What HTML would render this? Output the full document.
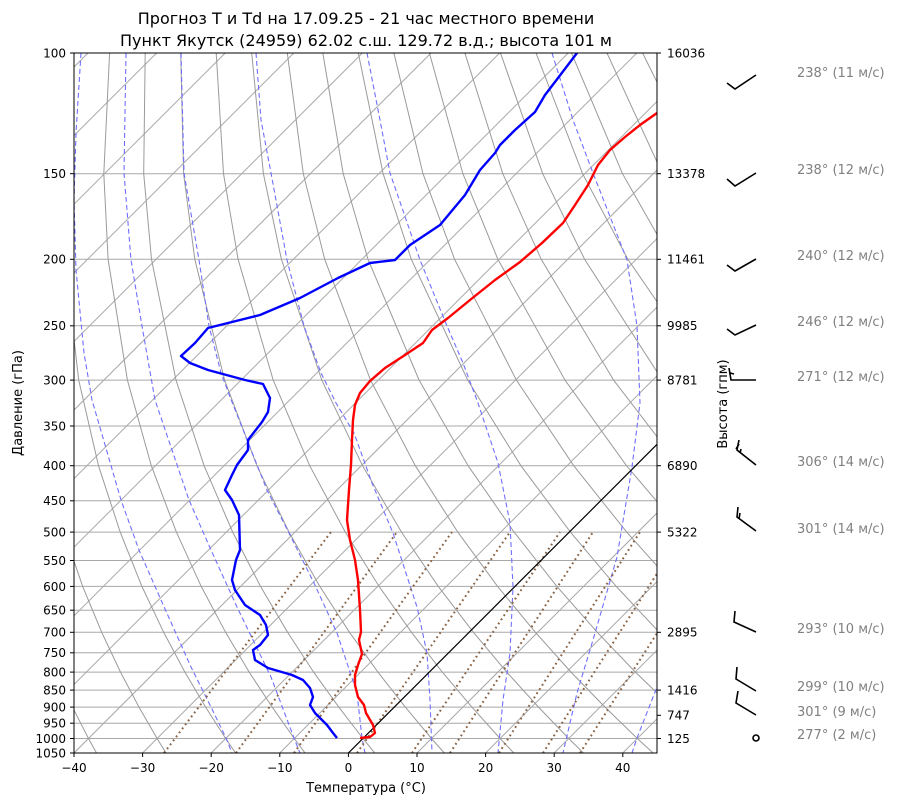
<!DOCTYPE html>
<html><head><meta charset="utf-8">
<style>
body{margin:0;background:#fff;}
svg text{font-family:"DejaVu Sans","Liberation Sans",sans-serif;}
</style></head>
<body>
<svg width="900" height="806" xmlns="http://www.w3.org/2000/svg">
<defs><clipPath id="c"><rect x="74" y="53" width="583" height="700"/></clipPath></defs>
<rect width="900" height="806" fill="#fff"/>
<g clip-path="url(#c)" fill="none">
<g stroke="#a8a8a8" stroke-width="1">
<line x1="74" x2="657" y1="53" y2="53"/><line x1="74" x2="657" y1="173.7" y2="173.7"/><line x1="74" x2="657" y1="259.3" y2="259.3"/><line x1="74" x2="657" y1="325.8" y2="325.8"/><line x1="74" x2="657" y1="380.1" y2="380.1"/><line x1="74" x2="657" y1="426" y2="426"/><line x1="74" x2="657" y1="465.7" y2="465.7"/><line x1="74" x2="657" y1="500.8" y2="500.8"/><line x1="74" x2="657" y1="532.1" y2="532.1"/><line x1="74" x2="657" y1="560.5" y2="560.5"/><line x1="74" x2="657" y1="586.4" y2="586.4"/><line x1="74" x2="657" y1="610.2" y2="610.2"/><line x1="74" x2="657" y1="632.3" y2="632.3"/><line x1="74" x2="657" y1="652.8" y2="652.8"/><line x1="74" x2="657" y1="672.1" y2="672.1"/><line x1="74" x2="657" y1="690.1" y2="690.1"/><line x1="74" x2="657" y1="707.1" y2="707.1"/><line x1="74" x2="657" y1="723.2" y2="723.2"/><line x1="74" x2="657" y1="738.5" y2="738.5"/>
</g>
<g stroke="#a8a8a8" stroke-width="1">
<line x1="-612" y1="753" x2="88" y2="53"/><line x1="-543.4" y1="753" x2="156.6" y2="53"/><line x1="-474.8" y1="753" x2="225.2" y2="53"/><line x1="-406.2" y1="753" x2="293.8" y2="53"/><line x1="-337.6" y1="753" x2="362.4" y2="53"/><line x1="-269" y1="753" x2="431" y2="53"/><line x1="-200.4" y1="753" x2="499.6" y2="53"/><line x1="-131.8" y1="753" x2="568.2" y2="53"/><line x1="-63.2" y1="753" x2="636.8" y2="53"/><line x1="5.4" y1="753" x2="705.4" y2="53"/><line x1="74" y1="753" x2="774" y2="53"/><line x1="142.6" y1="753" x2="842.6" y2="53"/><line x1="211.2" y1="753" x2="911.2" y2="53"/><line x1="279.8" y1="753" x2="979.8" y2="53"/><line x1="417" y1="753" x2="1117" y2="53"/><line x1="485.6" y1="753" x2="1185.6" y2="53"/><line x1="554.2" y1="753" x2="1254.2" y2="53"/><line x1="622.8" y1="753" x2="1322.8" y2="53"/>
</g>
<g stroke="#9a9a9a" stroke-width="1">
<polyline points="96.5,753 88.5,738.5 72.5,707.1 56.2,672.1 39.8,632.3 23.4,586.4 7.6,532.1 -7.1,465.7 -18.6,380.1 -21.8,259.3 -15.9,173.7 3,53"/>
<polyline points="166,753 157.1,738.5 139,707.1 120.5,672.1 101.7,632.3 82.7,586.4 63.9,532.1 45.7,465.7 30.1,380.1 21.5,259.3 24,173.7 38.6,53"/>
<polyline points="235.6,753 225.7,738.5 205.6,707.1 184.9,672.1 163.7,632.3 141.9,586.4 120.2,532.1 98.5,465.7 78.7,380.1 64.8,259.3 63.9,173.7 74.1,53"/>
<polyline points="305.1,753 294.3,738.5 272.2,707.1 249.2,672.1 225.6,632.3 201.2,586.4 176.4,532.1 151.3,465.7 127.4,380.1 108.1,259.3 103.8,173.7 109.6,53"/>
<polyline points="374.7,753 362.9,738.5 338.8,707.1 313.6,672.1 287.6,632.3 260.5,586.4 232.7,532.1 204.1,465.7 176,380.1 151.5,259.3 143.7,173.7 145.2,53"/>
<polyline points="444.3,753 431.5,738.5 405.3,707.1 377.9,672.1 349.5,632.3 319.8,586.4 289,532.1 256.9,465.7 224.6,380.1 194.8,259.3 183.6,173.7 180.7,53"/>
<polyline points="513.8,753 500.1,738.5 471.9,707.1 442.3,672.1 411.5,632.3 379.1,586.4 345.3,532.1 309.7,465.7 273.2,380.1 238.1,259.3 223.5,173.7 216.2,53"/>
<polyline points="583.4,753 568.7,738.5 538.5,707.1 506.7,672.1 473.4,632.3 438.3,586.4 401.5,532.1 362.5,465.7 321.8,380.1 281.4,259.3 263.4,173.7 251.7,53"/>
<polyline points="653.1,753 637.3,738.5 605,707.1 571,672.1 535.4,632.3 497.6,586.4 457.8,532.1 415.3,465.7 370.5,380.1 324.7,259.3 303.3,173.7 287.3,53"/>
<polyline points="722.7,753 705.9,738.5 671.6,707.1 635.4,672.1 597.3,632.3 556.9,586.4 514.1,532.1 468.1,465.7 419.1,380.1 368,259.3 343.2,173.7 322.8,53"/>
<polyline points="792.2,753 774.5,738.5 738.2,707.1 699.8,672.1 659.3,632.3 616.2,586.4 570.4,532.1 520.9,465.7 467.7,380.1 411.3,259.3 383.1,173.7 358.3,53"/>
<polyline points="861.8,753 843.1,738.5 804.7,707.1 764.1,672.1 721.2,632.3 675.5,586.4 626.7,532.1 573.7,465.7 516.4,380.1 454.6,259.3 423,173.7 393.9,53"/>
<polyline points="931.4,753 911.7,738.5 871.3,707.1 828.5,672.1 783.2,632.3 734.7,586.4 682.9,532.1 626.5,465.7 565,380.1 497.9,259.3 462.9,173.7 429.4,53"/>
<polyline points="1000.7,753 980.3,738.5 937.9,707.1 892.8,672.1 845.1,632.3 794,586.4 739.2,532.1 679.3,465.7 613.6,380.1 541.2,259.3 502.8,173.7 464.9,53"/>
<polyline points="853.3,586.4 795.5,532.1 732.1,465.7 662.3,380.1 584.6,259.3 542.7,173.7 500.5,53"/>
<polyline points="784.9,465.7 710.9,380.1 627.9,259.3 582.6,173.7 536,53"/>
<polyline points="837.7,465.7 759.5,380.1 671.2,259.3 622.5,173.7 571.5,53"/>
<polyline points="890.5,465.7 808.1,380.1 714.5,259.3 662.4,173.7 607,53"/>
<polyline points="943.3,465.7 856.8,380.1 757.8,259.3 702.3,173.7 642.6,53"/>
<polyline points="996.1,465.7 905.4,380.1 801.1,259.3 742.2,173.7 678.1,53"/>
</g>
<g stroke="#6f6fff" stroke-width="1.1" stroke-dasharray="5,3">
<polyline points="81,53 76,133 74,200 76,270 84,353 92,400 121,500 139,550 161,600 191,667 211,707 226,738 232,753"/>
<polyline points="126,53 124,173 131,260 142,326 155,400 189,500 211,550 237,607 271,677 294,738 300,753"/>
<polyline points="181,53 184,173 199,260 209,326 221,373 232,402 267,490 291,537 314,583 337,633 357,693 362,738 365,753"/>
<polyline points="256,53 261,120 271,173 287,260 304,326 321,373 336,403 354,433 372,483 393,533 417,607 427,653 430,700 432,753"/>
<polyline points="367,53 380,120 390,173 420,260 447,326 463,363 478,403 498,463 510,523 513,587 510,653 503,700 498,753"/>
<polyline points="552,53 573,120 593,173 627,260 637,326 640,403 632,467 617,557 593,640 577,693 563,753"/>
<polyline points="670,660 657,687 637,738 632,753"/>
</g>
<g stroke="#8a6446" stroke-width="2" stroke-dasharray="1.8,3.2">
<line x1="164" y1="753" x2="331" y2="532"/><line x1="236" y1="753" x2="397" y2="532"/><line x1="294" y1="753" x2="452" y2="532"/><line x1="357" y1="753" x2="510" y2="532"/><line x1="412" y1="753" x2="560" y2="532"/><line x1="450" y1="753" x2="593" y2="532"/><line x1="499" y1="753" x2="640" y2="532"/><line x1="543" y1="753" x2="672" y2="550"/><line x1="580" y1="753" x2="672" y2="610"/>
</g>
<line x1="348.4" y1="753" x2="700" y2="401.4" stroke="#000" stroke-width="1.2"/>
<polyline stroke="#ff0000" stroke-width="2.4" stroke-linejoin="round" points="360,738 370,737 375,733 373,725 366,713 364,705 358,697 355,685 355,675 358,665 362,654 359,640 361,632 360,610 358,580 355,560 350,540 347,520 349,490 351,465 352,440 353,420 355,405 360,393 370,381 385,368 405,355 423,343 432,330 448,318 470,300 495,280 520,262 542,243 563,223 575,205 588,185 598,165 610,150 625,137 640,125 657,113"/>
<polyline stroke="#0000ff" stroke-width="2.4" stroke-linejoin="round" points="337,738 333,733 327,725 320,718 315,713 310,705 313,697 310,688 303,680 292,675 268,668 255,660 253,650 260,645 268,635 266,625 260,615 245,605 235,590 232,580 236,560 240,550 239,515 232,500 225,490 232,475 237,465 248,450 248,440 262,422 268,412 270,398 263,384 245,380 208,370 190,363 181,356 195,343 208,328 260,315 300,298 338,278 370,263 395,260 410,245 440,225 465,195 480,170 495,153 500,145 515,130 535,112 545,95 558,78 577,53"/>
</g>
<rect x="74" y="53" width="583" height="700" fill="none" stroke="#000" stroke-width="1"/>
<g stroke="#000" stroke-width="1">
<line x1="70" x2="74" y1="53" y2="53"/><line x1="70" x2="74" y1="173.7" y2="173.7"/><line x1="70" x2="74" y1="259.3" y2="259.3"/><line x1="70" x2="74" y1="325.8" y2="325.8"/><line x1="70" x2="74" y1="380.1" y2="380.1"/><line x1="70" x2="74" y1="426" y2="426"/><line x1="70" x2="74" y1="465.7" y2="465.7"/><line x1="70" x2="74" y1="500.8" y2="500.8"/><line x1="70" x2="74" y1="532.1" y2="532.1"/><line x1="70" x2="74" y1="560.5" y2="560.5"/><line x1="70" x2="74" y1="586.4" y2="586.4"/><line x1="70" x2="74" y1="610.2" y2="610.2"/><line x1="70" x2="74" y1="632.3" y2="632.3"/><line x1="70" x2="74" y1="652.8" y2="652.8"/><line x1="70" x2="74" y1="672.1" y2="672.1"/><line x1="70" x2="74" y1="690.1" y2="690.1"/><line x1="70" x2="74" y1="707.1" y2="707.1"/><line x1="70" x2="74" y1="723.2" y2="723.2"/><line x1="70" x2="74" y1="738.5" y2="738.5"/><line x1="70" x2="74" y1="753" y2="753"/>
<line x1="74" x2="74" y1="753" y2="757"/><line x1="142.6" x2="142.6" y1="753" y2="757"/><line x1="211.2" x2="211.2" y1="753" y2="757"/><line x1="279.8" x2="279.8" y1="753" y2="757"/><line x1="348.4" x2="348.4" y1="753" y2="757"/><line x1="417" x2="417" y1="753" y2="757"/><line x1="485.6" x2="485.6" y1="753" y2="757"/><line x1="554.2" x2="554.2" y1="753" y2="757"/><line x1="622.8" x2="622.8" y1="753" y2="757"/>
<line x1="657" x2="661" y1="53" y2="53"/><line x1="657" x2="661" y1="173.7" y2="173.7"/><line x1="657" x2="661" y1="259.3" y2="259.3"/><line x1="657" x2="661" y1="325.8" y2="325.8"/><line x1="657" x2="661" y1="380.1" y2="380.1"/><line x1="657" x2="661" y1="465.7" y2="465.7"/><line x1="657" x2="661" y1="532.1" y2="532.1"/><line x1="657" x2="661" y1="632.3" y2="632.3"/><line x1="657" x2="661" y1="690.1" y2="690.1"/><line x1="657" x2="661" y1="715.3" y2="715.3"/><line x1="657" x2="661" y1="738.5" y2="738.5"/>
</g>
<g font-size="12" text-anchor="end">
<text x="66" y="57.5">100</text><text x="66" y="178">150</text><text x="66" y="263.5">200</text><text x="66" y="330">250</text><text x="66" y="384.5">300</text><text x="66" y="430.5">350</text><text x="66" y="470">400</text><text x="66" y="505">450</text><text x="66" y="536.5">500</text><text x="66" y="565">550</text><text x="66" y="591">600</text><text x="66" y="614.5">650</text><text x="66" y="636.5">700</text><text x="66" y="657">750</text><text x="66" y="676.5">800</text><text x="66" y="694.5">850</text><text x="66" y="711.5">900</text><text x="66" y="727.5">950</text><text x="66" y="743">1000</text><text x="66" y="757.5">1050</text>
</g>
<g font-size="12" text-anchor="middle">
<text x="74" y="772">−40</text><text x="142.6" y="772">−30</text><text x="211.2" y="772">−20</text><text x="279.8" y="772">−10</text><text x="348.4" y="772">0</text><text x="417" y="772">10</text><text x="485.6" y="772">20</text><text x="554.2" y="772">30</text><text x="622.8" y="772">40</text>
</g>
<g font-size="12">
<text x="667" y="57.5">16036</text><text x="667" y="178">13378</text><text x="667" y="263.5">11461</text><text x="667" y="330">9985</text><text x="667" y="384.5">8781</text><text x="667" y="470">6890</text><text x="667" y="536.5">5322</text><text x="667" y="636.5">2895</text><text x="667" y="694.5">1416</text><text x="667" y="719.5">747</text><text x="667" y="743">125</text>
</g>
<text x="366" y="24" font-size="16" text-anchor="middle">Прогноз T и Td на 17.09.25 - 21 час местного времени</text>
<text x="366" y="46" font-size="16" text-anchor="middle">Пункт Якутск (24959) 62.02 с.ш. 129.72 в.д.; высота 101 м</text>
<text x="366" y="792" font-size="13" text-anchor="middle">Температура (°C)</text>
<text transform="translate(22,403) rotate(-90)" font-size="13" text-anchor="middle">Давление (гПа)</text>
<text transform="translate(727,404) rotate(-90)" font-size="13" text-anchor="middle">Высота (гпм)</text>
<g stroke="#000" stroke-width="1.6" fill="none">
<polyline points="727,83 735,89 756,75"/>
<polyline points="727,179 735,186 756,173"/>
<polyline points="727,265 735,271 756,259"/>
<polyline points="727,329 735,335 756,325"/>
<polyline points="756,380 731,380 729,368"/><line x1="730" y1="373" x2="734" y2="374"/>
<polyline points="756,465 737,450 739,440"/><line x1="736" y1="449" x2="739" y2="444"/><line x1="740" y1="453" x2="741" y2="449"/>
<polyline points="756,531 737,517 738,507"/><line x1="739" y1="519" x2="740" y2="513"/>
<polyline points="756,632 734,622 735,611"/>
<polyline points="756,691 736,679 737,667"/>
<polyline points="756,715 736,703 738,691"/>
<circle cx="756" cy="738" r="3"/>
</g>
<g font-size="13" fill="#808080">
<text x="797" y="77">238° (11 м/с)</text>
<text x="797" y="174">238° (12 м/с)</text>
<text x="797" y="260">240° (12 м/с)</text>
<text x="797" y="326">246° (12 м/с)</text>
<text x="797" y="381">271° (12 м/с)</text>
<text x="797" y="466">306° (14 м/с)</text>
<text x="797" y="533">301° (14 м/с)</text>
<text x="797" y="633">293° (10 м/с)</text>
<text x="797" y="691">299° (10 м/с)</text>
<text x="797" y="716">301° (9 м/с)</text>
<text x="797" y="739">277° (2 м/с)</text>
</g>
</svg>
</body></html>
